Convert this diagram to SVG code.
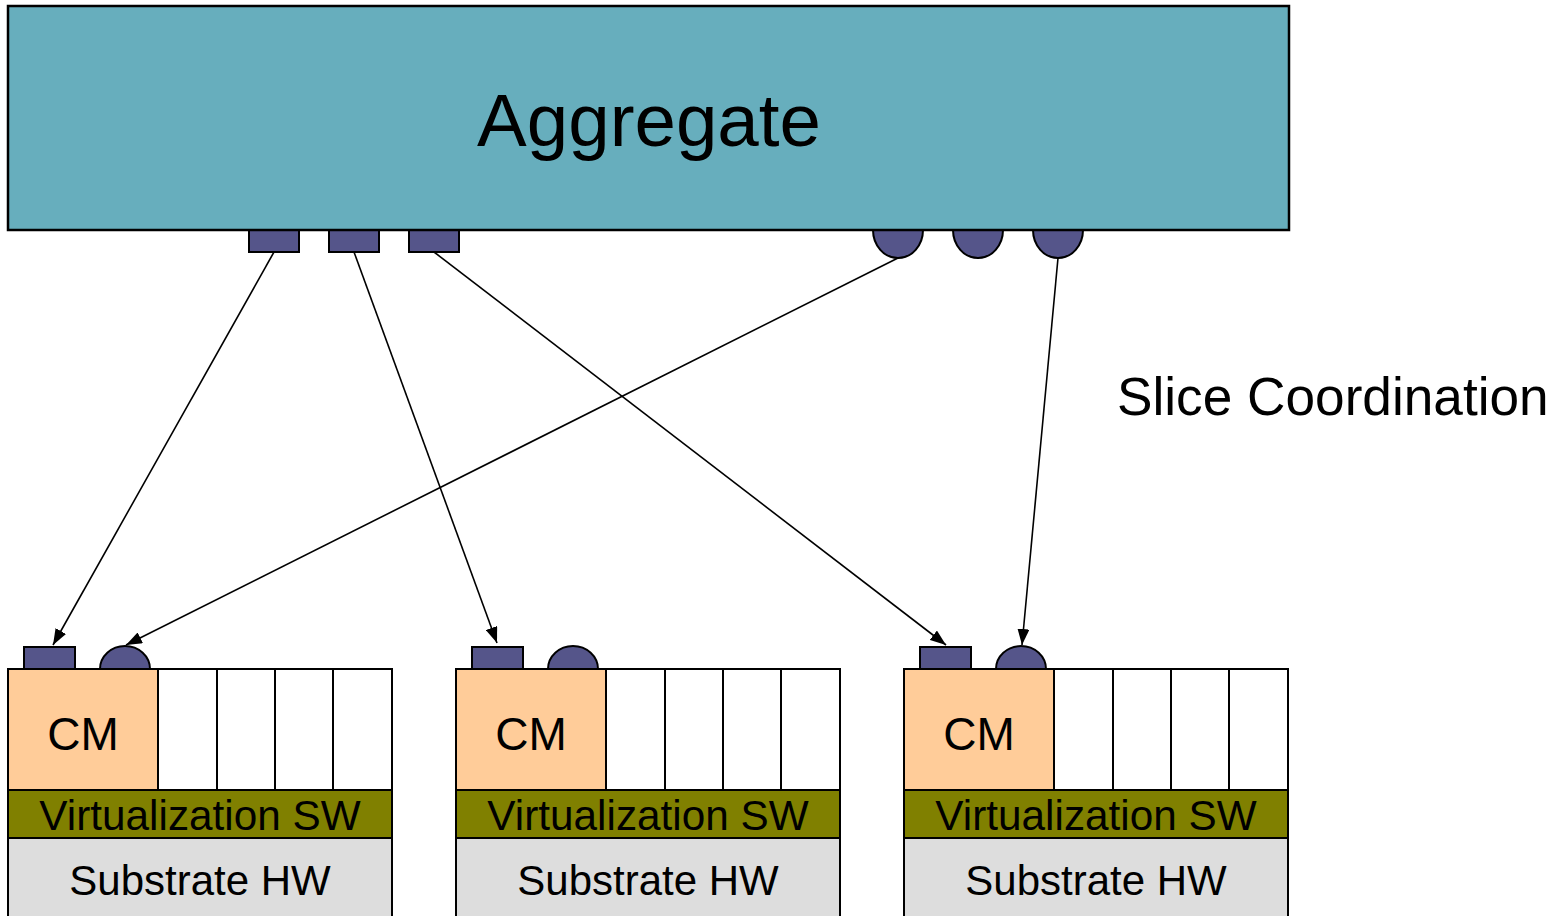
<svg xmlns="http://www.w3.org/2000/svg" width="1566" height="916" viewBox="0 0 1566 916">
<style>
.port{fill:#55558A;stroke:#000;stroke-width:2}
.t{font-family:"Liberation Sans",Arial,sans-serif;fill:#000;text-anchor:middle}
.cm{fill:#FFCC99;stroke:#000;stroke-width:2}
.slot{fill:#fff;stroke:#000;stroke-width:2}
.vsw{fill:#808000;stroke:#000;stroke-width:2}
.hw{fill:#DDDDDD;stroke:#000;stroke-width:2}
.conn{stroke:#000;stroke-width:1.6;fill:none;marker-end:url(#ah)}
</style>
<defs>
<marker id="ah" viewBox="0 0 16 12" refX="16" refY="6" markerWidth="16" markerHeight="12" markerUnits="userSpaceOnUse" orient="auto">
<path d="M0,0 L16,6 L0,12 z" fill="#000"/>
</marker>
<g id="cmnode">
<rect class="port" x="16" y="-22" width="51" height="22"/>
<path class="port" d="M92,0 A25,23 0 0 1 142,0 Z"/>
<rect class="cm" x="0" y="0" width="150" height="121"/>
<rect class="slot" x="150" y="0" width="59" height="121"/>
<rect class="slot" x="209" y="0" width="58" height="121"/>
<rect class="slot" x="267" y="0" width="58" height="121"/>
<rect class="slot" x="325" y="0" width="59" height="121"/>
<rect class="vsw" x="0" y="121" width="384" height="48"/>
<rect class="hw" x="0" y="169" width="384" height="90"/>
<text class="t" x="75" y="81" font-size="46">CM</text>
<text class="t" x="192" y="161" font-size="42.3">Virtualization SW</text>
<text class="t" x="192" y="226" font-size="42">Substrate HW</text>
</g>
</defs>
<g id="aggregate">
<rect class="port" x="249" y="230" width="50" height="22"/>
<rect class="port" x="329" y="230" width="50" height="22"/>
<rect class="port" x="409" y="230" width="50" height="22"/>
<path class="port" d="M873,230 A25,28 0 0 0 923,230 Z"/>
<path class="port" d="M953,230 A25,28 0 0 0 1003,230 Z"/>
<path class="port" d="M1033,230 A25,28 0 0 0 1083,230 Z"/>
<rect x="8" y="6" width="1281" height="224" fill="#67AEBD" stroke="#000" stroke-width="2.5"/>
<text class="t" x="649" y="146" font-size="74.5">Aggregate</text>
</g>
<g id="cm1"><use href="#cmnode" x="8" y="669"/></g>
<g id="cm2"><use href="#cmnode" x="456" y="669"/></g>
<g id="cm3"><use href="#cmnode" x="904" y="669"/></g>
<g id="label">
<text x="1117" y="415" font-size="53.2" style="font-family:'Liberation Sans',Arial,sans-serif">Slice Coordination</text>
</g>
<g id="connectors">
<line class="conn" x1="274" y1="252" x2="53" y2="645"/>
<line class="conn" x1="354" y1="252" x2="497" y2="643"/>
<line class="conn" x1="434" y1="252" x2="946" y2="645"/>
<line class="conn" x1="898" y1="258" x2="126" y2="645"/>
<line class="conn" x1="1058" y1="258" x2="1022" y2="645"/>
</g>
</svg>
